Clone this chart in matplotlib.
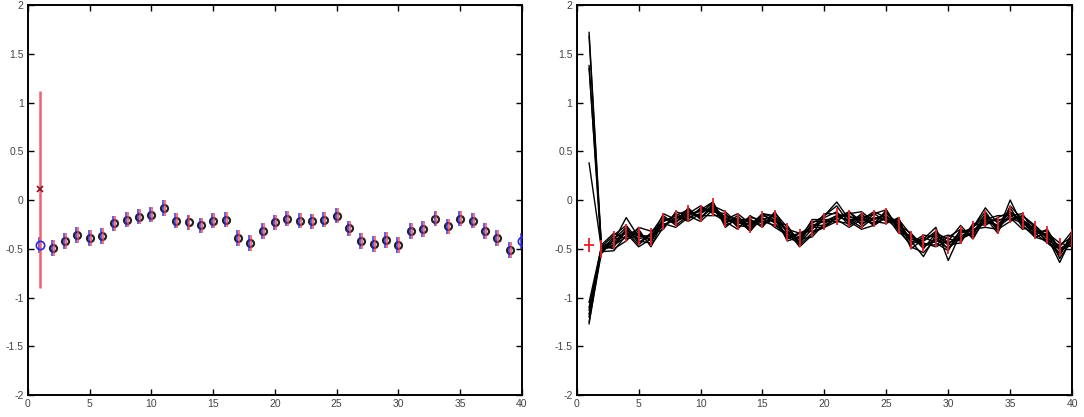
import matplotlib
matplotlib.use('Agg')
import matplotlib.pyplot as plt
import numpy as np

plt.rcParams['font.family'] = ['Liberation Sans', 'DejaVu Sans']

x = np.arange(1, 41)

# left panel: black circles (x=2..39), red and blue error bars
red_mean = [0.11, -0.49, -0.42, -0.36, -0.39, -0.37, -0.24, -0.20, -0.17, -0.15,
            -0.08, -0.21, -0.23, -0.26, -0.21, -0.20, -0.39, -0.44, -0.32, -0.23,
            -0.19, -0.21, -0.22, -0.20, -0.16, -0.29, -0.42, -0.45, -0.41, -0.46,
            -0.32, -0.30, -0.19, -0.27, -0.19, -0.21, -0.32, -0.39, -0.51]
red_err = [1.01] + [0.08] * 38
blue_mean = [-0.46, -0.49, -0.42, -0.36, -0.39, -0.37, -0.24, -0.20, -0.17, -0.15,
             -0.08, -0.21, -0.23, -0.26, -0.21, -0.20, -0.39, -0.44, -0.32, -0.23,
             -0.19, -0.21, -0.22, -0.20, -0.16, -0.29, -0.42, -0.45, -0.41, -0.46,
             -0.32, -0.30, -0.19, -0.27, -0.19, -0.21, -0.32, -0.39, -0.51, -0.42]
blue_err = [0.08] * 40
black_mean = blue_mean[1:39]

# right panel: red means and sampled traces
mean_r = [-0.46, -0.50, -0.41, -0.34, -0.37, -0.38, -0.22, -0.19, -0.14, -0.14,
          -0.07, -0.19, -0.22, -0.25, -0.20, -0.19, -0.33, -0.39, -0.29, -0.22,
          -0.17, -0.19, -0.21, -0.19, -0.17, -0.26, -0.41, -0.44, -0.39, -0.46,
          -0.36, -0.31, -0.19, -0.26, -0.15, -0.21, -0.31, -0.36, -0.48, -0.39]
err_r = [0.07] + [0.09] * 39

traces = [
    [1.72, -0.48, -0.36, -0.26, -0.42, -0.44, -0.18, -0.24, -0.08, -0.20, -0.03, -0.24, -0.16, -0.30, -0.14, -0.24, -0.38, -0.44, -0.24, -0.16, -0.06, -0.24, -0.14, -0.26, -0.10, -0.32, -0.46, -0.38, -0.44, -0.52, -0.30, -0.36, -0.14, -0.32, 0.00, -0.26, -0.38, -0.42, -0.57, -0.34],
    [1.68, -0.52, -0.46, -0.38, -0.32, -0.47, -0.28, -0.14, -0.20, -0.08, -0.12, -0.14, -0.28, -0.20, -0.26, -0.13, -0.28, -0.46, -0.34, -0.28, -0.22, -0.12, -0.26, -0.14, -0.22, -0.20, -0.36, -0.50, -0.34, -0.40, -0.42, -0.26, -0.24, -0.20, -0.20, -0.16, -0.26, -0.40, -0.50, -0.44],
    [1.38, -0.55, -0.40, -0.28, -0.44, -0.34, -0.16, -0.26, -0.16, -0.10, -0.02, -0.26, -0.20, -0.32, -0.16, -0.20, -0.40, -0.34, -0.30, -0.18, -0.12, -0.26, -0.18, -0.24, -0.12, -0.28, -0.48, -0.54, -0.40, -0.50, -0.34, -0.28, -0.12, -0.30, -0.08, -0.28, -0.34, -0.32, -0.60, -0.40],
    [1.35, -0.46, -0.34, -0.40, -0.36, -0.40, -0.26, -0.20, -0.10, -0.18, -0.08, -0.20, -0.14, -0.24, -0.22, -0.26, -0.34, -0.40, -0.26, -0.26, -0.18, -0.20, -0.20, -0.12, -0.18, -0.24, -0.40, -0.42, -0.32, -0.44, -0.40, -0.32, -0.18, -0.22, -0.14, -0.20, -0.30, -0.42, -0.46, -0.38],
    [0.38, -0.50, -0.48, -0.32, -0.46, -0.34, -0.22, -0.16, -0.22, -0.14, -0.06, -0.12, -0.24, -0.18, -0.20, -0.16, -0.42, -0.38, -0.22, -0.22, -0.16, -0.16, -0.24, -0.20, -0.16, -0.34, -0.36, -0.46, -0.46, -0.38, -0.30, -0.38, -0.20, -0.26, -0.16, -0.22, -0.36, -0.30, -0.52, -0.46],
    [-1.05, -0.48, -0.42, -0.18, -0.38, -0.36, -0.30, -0.12, -0.16, -0.22, -0.10, -0.18, -0.22, -0.26, -0.14, -0.16, -0.32, -0.48, -0.36, -0.16, -0.02, -0.20, -0.28, -0.18, -0.20, -0.26, -0.42, -0.58, -0.36, -0.46, -0.44, -0.24, -0.26, -0.18, -0.12, -0.24, -0.32, -0.36, -0.48, -0.32],
    [-1.10, -0.53, -0.52, -0.36, -0.30, -0.48, -0.20, -0.22, -0.14, -0.06, -0.14, -0.22, -0.30, -0.16, -0.24, -0.20, -0.30, -0.34, -0.32, -0.28, -0.18, -0.14, -0.12, -0.22, -0.24, -0.18, -0.50, -0.40, -0.28, -0.62, -0.34, -0.30, -0.28, -0.30, -0.22, -0.16, -0.28, -0.44, -0.54, -0.40],
    [-1.13, -0.47, -0.50, -0.42, -0.28, -0.32, -0.24, -0.28, -0.18, -0.14, -0.02, -0.28, -0.18, -0.32, -0.18, -0.28, -0.36, -0.42, -0.20, -0.20, -0.20, -0.28, -0.20, -0.14, -0.10, -0.30, -0.40, -0.44, -0.48, -0.42, -0.26, -0.40, -0.18, -0.34, -0.06, -0.20, -0.38, -0.34, -0.44, -0.48],
    [-1.17, -0.51, -0.38, -0.34, -0.48, -0.40, -0.14, -0.20, -0.12, -0.16, -0.16, -0.16, -0.20, -0.20, -0.28, -0.12, -0.34, -0.40, -0.38, -0.24, -0.16, -0.22, -0.30, -0.26, -0.18, -0.22, -0.44, -0.36, -0.38, -0.50, -0.38, -0.28, -0.08, -0.24, -0.18, -0.30, -0.26, -0.38, -0.64, -0.38],
    [-1.20, -0.49, -0.44, -0.30, -0.40, -0.36, -0.26, -0.18, -0.14, -0.12, -0.08, -0.20, -0.24, -0.24, -0.20, -0.22, -0.26, -0.44, -0.30, -0.14, -0.14, -0.18, -0.18, -0.26, -0.16, -0.26, -0.34, -0.48, -0.40, -0.36, -0.40, -0.34, -0.20, -0.16, -0.16, -0.14, -0.34, -0.44, -0.50, -0.42],
    [-1.25, -0.54, -0.40, -0.38, -0.34, -0.42, -0.22, -0.16, -0.10, -0.18, -0.06, -0.18, -0.26, -0.28, -0.14, -0.18, -0.38, -0.34, -0.28, -0.28, -0.18, -0.12, -0.22, -0.18, -0.20, -0.30, -0.38, -0.42, -0.34, -0.46, -0.32, -0.32, -0.22, -0.26, -0.12, -0.22, -0.30, -0.36, -0.56, -0.36],
    [-1.27, -0.50, -0.46, -0.32, -0.36, -0.38, -0.20, -0.22, -0.16, -0.10, -0.10, -0.22, -0.20, -0.22, -0.22, -0.20, -0.32, -0.38, -0.26, -0.22, -0.22, -0.24, -0.16, -0.20, -0.14, -0.24, -0.42, -0.46, -0.42, -0.44, -0.38, -0.28, -0.16, -0.28, -0.18, -0.24, -0.32, -0.32, -0.50, -0.44],
]

xticks = [0, 5, 10, 15, 20, 25, 30, 35, 40]
yticks = [-2, -1.5, -1, -0.5, 0, 0.5, 1, 1.5, 2]
yticklabels = ['-2', '-1.5', '-1', '-0.5', '0', '0.5', '1', '1.5', '2']


def style(ax):
    ax.set_xlim(0, 40)
    ax.set_ylim(-2, 2)
    ax.set_xticks(xticks)
    ax.set_yticks(yticks)
    ax.set_yticklabels(yticklabels)
    ax.tick_params(direction='in', length=4, width=1, top=True, right=True,
                   labelsize=7.5, labelcolor='#444444', pad=3)
    for s in ax.spines.values():
        s.set_linewidth(1.4)


fig = plt.figure(figsize=(10.84, 4.17), dpi=100)
ax1 = fig.add_axes([0.0258, 0.0528, 0.4557, 0.935])
ax2 = fig.add_axes([0.532, 0.0528, 0.457, 0.935])

# left
ax1.plot(x[1:39], black_mean, 'o', mfc='none', mec='#222222', ms=5, mew=1.6,
         zorder=2)
ax1.errorbar(x - 0.08, blue_mean, yerr=blue_err, fmt='none', ecolor='#2a2ad8',
             elinewidth=1.3, alpha=0.8, zorder=3)
ax1.plot([x[0], x[-1]], [blue_mean[0], blue_mean[-1]], 'o', mfc='none',
         mec='#2a2ad8', ms=6, mew=1.2, zorder=4)
ax1.errorbar(x[1:39] + 0.08, red_mean[1:], yerr=red_err[1:], fmt='none',
             ecolor='#f04050', elinewidth=1.3, alpha=0.8, zorder=3)
ax1.errorbar(x[0], red_mean[0], yerr=red_err[0], fmt='none', ecolor='#f06070',
             elinewidth=1.8, zorder=3)
ax1.plot(x[0], red_mean[0], 'x', color='#8a1020', ms=4, mew=1.2, zorder=5)
style(ax1)

# right
for t in traces:
    ax2.plot(x, t, '-', color='black', lw=1.0, zorder=2)
ax2.errorbar(x, mean_r, yerr=err_r, fmt='none', ecolor='#e8202a', elinewidth=1.3,
             zorder=3)
ax2.plot(x[0], mean_r[0], '_', color='#e8202a', ms=7, mew=1.3, zorder=3)
style(ax2)

fig.savefig('out.png', dpi=100)
